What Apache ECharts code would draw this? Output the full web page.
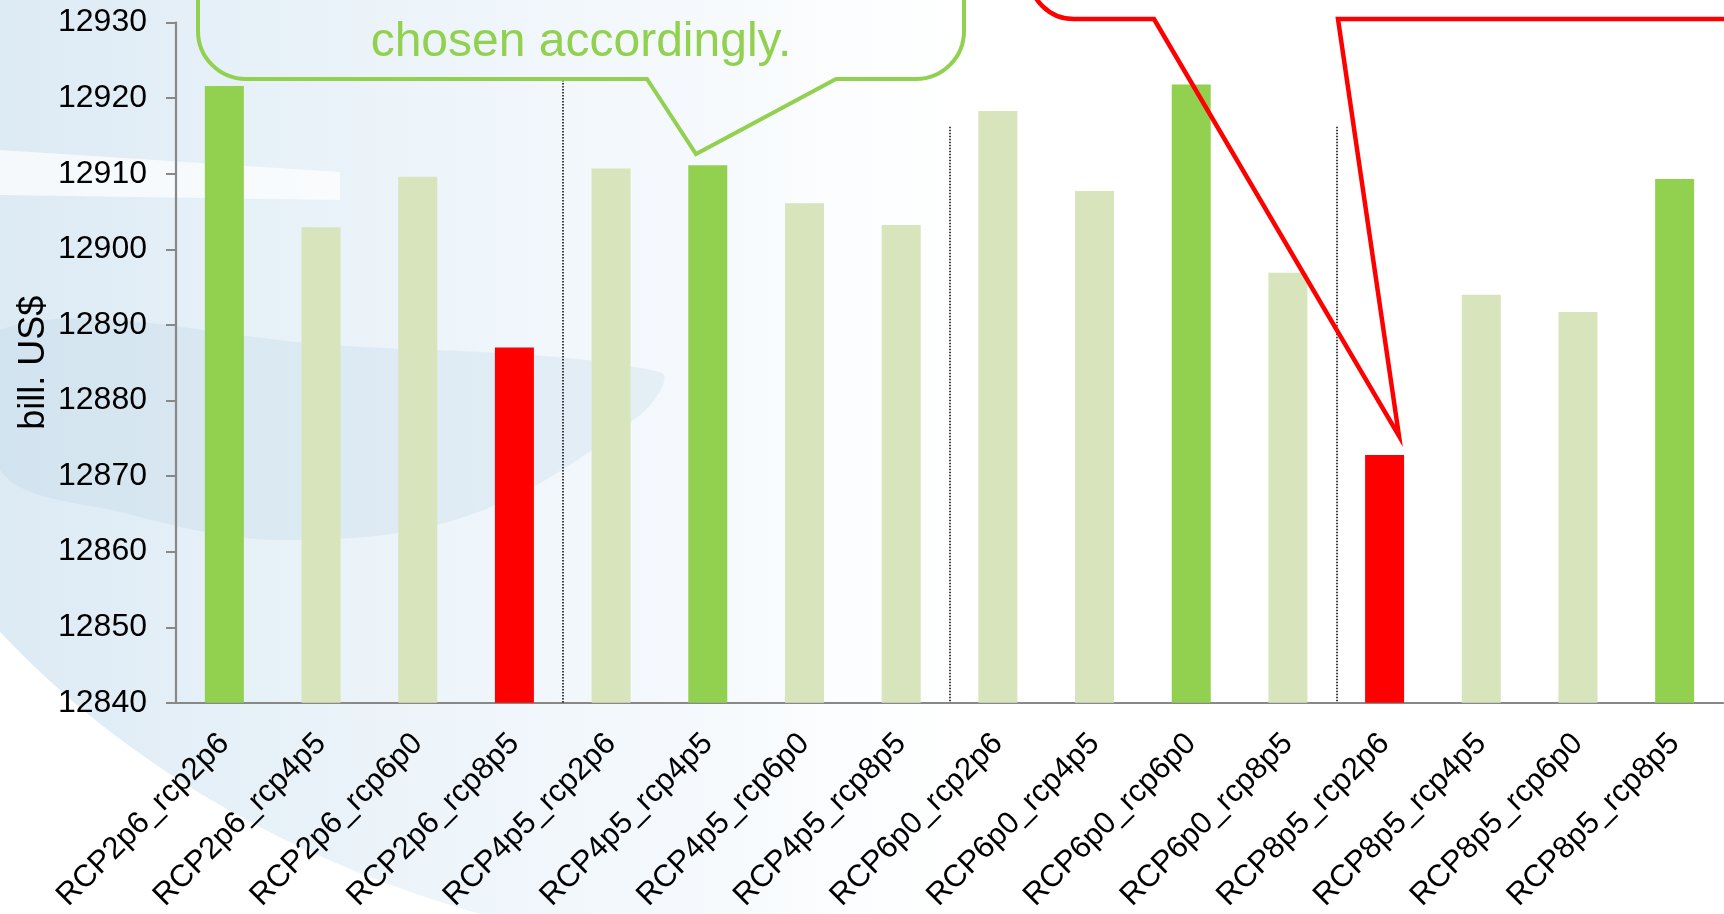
<!DOCTYPE html>
<html>
<head>
<meta charset="utf-8">
<script src="https://cdn.jsdelivr.net/npm/echarts@6/dist/echarts.min.js"></script>
<style>
  html, body { margin: 0; padding: 0; background: #fff; }
  #chart { width: 1724px; height: 914px; }
</style>
</head>
<body>
<div id="chart"></div>
<script>
// scenario combinations (model RCP _ policy rcp)
const categories = [
  'RCP2p6_rcp2p6', 'RCP2p6_rcp4p5', 'RCP2p6_rcp6p0', 'RCP2p6_rcp8p5',
  'RCP4p5_rcp2p6', 'RCP4p5_rcp4p5', 'RCP4p5_rcp6p0', 'RCP4p5_rcp8p5',
  'RCP6p0_rcp2p6', 'RCP6p0_rcp4p5', 'RCP6p0_rcp6p0', 'RCP6p0_rcp8p5',
  'RCP8p5_rcp2p6', 'RCP8p5_rcp4p5', 'RCP8p5_rcp6p0', 'RCP8p5_rcp8p5'
]
// bill. US$
const values = [
  12921.6, 12902.9, 12909.6, 12887.0,
  12910.7, 12911.1, 12906.1, 12903.2,
  12918.3, 12907.7, 12921.8, 12896.9,
  12872.8, 12894.0, 12891.7, 12909.3
]
// which bars are highlighted: best choice, worst case, others
const barGroup = [
  'best', 'other', 'other', 'worst',
  'other', 'best', 'other', 'other',
  'other', 'other', 'best', 'other',
  'worst', 'other', 'other', 'best'
]
const yMin = 12840
const yMax = 12930
const yStep = 10
// dotted separators between RCP groups (category boundaries) and their top value
const separatorAt = [3.5, 7.5, 11.5]
const separatorTop = [12922.4, 12916.2, 12916.2]

const groupColor = { best: '#92D050', other: '#D8E4BC', worst: '#FF0000' }
const font = 'Liberation Sans, Arial, sans-serif'
const axisGray = '#888888'
const green = '#92D050'
const red = '#FF0000'

const myChart = echarts.init(document.getElementById('chart'))

// callout outline pieces (annotation shapes, not data)
function calloutLine(points, color, width) {
  return {
    type: 'polyline', z: 100, silent: true,
    shape: { points: points },
    style: { stroke: color, lineWidth: width, fill: null, lineJoin: 'miter' }
  }
}
function calloutCorner(cx, cy, r, a0, a1, color, width) {
  return {
    type: 'arc', z: 100, silent: true,
    shape: { cx: cx, cy: cy, r: r, startAngle: a0, endAngle: a1, clockwise: true },
    style: { stroke: color, lineWidth: width, fill: null }
  }
}

myChart.setOption({
  animation: false,
  backgroundColor: '#ffffff',
  textStyle: { fontFamily: font },
  grid: { left: 176, right: 1, top: 22.5, bottom: 207 },
  xAxis: [
    {
      type: 'category',
      data: categories,
      boundaryGap: true,
      axisLine: { lineStyle: { color: axisGray, width: 2.2 } },
      axisTick: { interval: 0, length: 10, lineStyle: { color: axisGray, width: 2 } },
      axisLabel: {
        interval: 0,
        rotate: 45,
        margin: 36,
        fontSize: 31,
        color: '#000',
        fontFamily: font
      },
      splitLine: { show: false }
    },
    {
      type: 'value',
      min: -0.5,
      max: 15.5,
      show: false
    }
  ],
  yAxis: {
    type: 'value',
    min: yMin,
    max: yMax,
    interval: yStep,
    name: 'bill. US$',
    nameLocation: 'middle',
    nameRotate: 90,
    nameGap: 124,
    nameMoveOverlap: false,
    nameTextStyle: { fontSize: 36, color: '#000', fontFamily: font },
    axisLine: { show: true, onZero: false, lineStyle: { color: axisGray, width: 2.2 } },
    axisTick: { show: true, length: 10, lineStyle: { color: axisGray, width: 2 } },
    axisLabel: {
      margin: 29,
      fontSize: 32,
      color: '#000',
      fontFamily: font,
      formatter: v => String(v)
    },
    splitLine: { show: false }
  },
  series: [
    {
      type: 'bar',
      barWidth: 39,
      data: values.map((v, i) => ({
        value: v,
        itemStyle: { color: groupColor[barGroup[i]] }
      })),
      z: 2
    },
    {
      type: 'line',
      xAxisIndex: 1,
      yAxisIndex: 0,
      data: [],
      silent: true,
      z: 3,
      markLine: {
        silent: true,
        symbol: 'none',
        label: { show: false },
        lineStyle: { type: [1.5, 1.5], color: '#111', width: 1.6 },
        data: separatorAt.map((x, i) => [
          { coord: [x, separatorTop[i]] },
          { coord: [x, yMin] }
        ])
      }
    }
  ],
  graphic: {
    elements: [
      // template background (light blue swoosh)
      {
        type: 'ellipse',
        z: -100,
        silent: true,
        shape: { cx: 820, cy: 150, rx: 1020, ry: 810 },
        style: {
          fill: new echarts.graphic.LinearGradient(0, 0, 1, 0, [
            { offset: 0, color: 'rgba(200,222,238,0.8)' },
            { offset: 0.2, color: 'rgba(218,233,244,0.7)' },
            { offset: 0.45, color: 'rgba(238,245,251,0.55)' },
            { offset: 0.62, color: 'rgba(255,255,255,0)' }
          ])
        }
      },
      {
        type: 'polygon',
        z: -90,
        silent: true,
        shape: {
          points: [[0, 330], [330, 345], [660, 372], [640, 415], [470, 515], [280, 540], [120, 512], [0, 470]],
          smooth: 0.35
        },
        style: { fill: 'rgba(175,205,224,0.22)' }
      },
      {
        type: 'polygon',
        z: -90,
        silent: true,
        shape: { points: [[0, 150], [340, 172], [340, 200], [0, 195]] },
        style: { fill: 'rgba(255,255,255,0.7)' }
      },
      // green callout
      calloutLine([[198, -80], [198, 31]], green, 4),
      calloutCorner(246, 31, 48, Math.PI / 2, Math.PI, green, 4),
      calloutLine([[246, 79], [647, 79], [696, 154], [836, 79], [916, 79]], green, 4),
      calloutCorner(916, 31, 48, 0, Math.PI / 2, green, 4),
      calloutLine([[964, 31], [964, -80]], green, 4),
      {
        type: 'text',
        z: 101,
        silent: true,
        style: {
          text: 'chosen accordingly.',
          x: 581,
          y: 43,
          align: 'center',
          verticalAlign: 'middle',
          fill: green,
          fontSize: 48,
          fontFamily: font
        }
      },
      // red callout
      calloutLine([[1029, -100], [1029, -26]], red, 4.5),
      calloutCorner(1074, -26, 45, Math.PI / 2, Math.PI, red, 4.5),
      calloutLine([[1074, 19], [1154, 19], [1399, 436], [1338, 19], [1740, 19]], red, 4.5)
    ]
  }
})
</script>
</body>
</html>
